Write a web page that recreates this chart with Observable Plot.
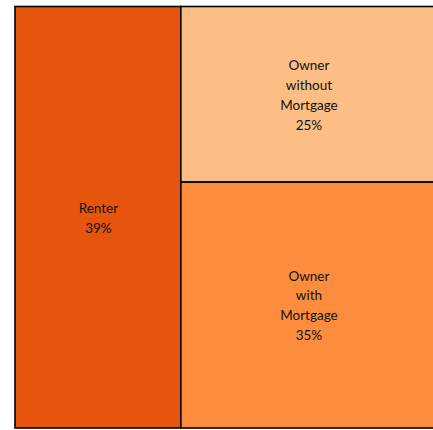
<!DOCTYPE html>
<html>
<head>
<meta charset="utf-8">
<script src="https://cdn.jsdelivr.net/npm/d3@7"></script>
<script src="https://cdn.jsdelivr.net/npm/@observablehq/plot@0.6"></script>
<style>
  html, body { margin: 0; padding: 0; background: #fff; overflow: hidden; }
  #chart svg { display: block; font-family: Lato, sans-serif; }
</style>
</head>
<body>
<div id="chart"></div>
<script>
const groups = ["Renter", "Owner", "Owner"];
const categories = ["Renter", "Owner without Mortgage", "Owner with Mortgage"];
const labels = ["Renter", "Owner\nwithout\nMortgage", "Owner\nwith\nMortgage"];
const values = [39, 25, 35];

// Build hierarchy: root -> group -> category
const rows = categories.map((c, i) => ({category: c, group: groups[i], label: labels[i], value: values[i]}));
const nested = {name: "root", children: Array.from(d3.group(rows, d => d.group), ([g, items]) =>
  g === items[0].category ? items[0] : {name: g, children: items})};
const root = d3.hierarchy(nested).sum(d => d.value || 0);
d3.treemap().tile(d3.treemapSliceDice).size([100, 100]).round(false)(root);
const cells = root.leaves().map(n => ({...n.data, x0: n.x0, x1: n.x1, y0: n.y0, y1: n.y1}));

const chart = Plot.plot({
  width: 433,
  height: 430,
  marginLeft: 15,
  marginRight: -3,
  marginTop: 6.5,
  marginBottom: 2,
  x: {domain: [0, 100], axis: null},
  y: {domain: [0, 100], axis: null, reverse: true},
  color: {domain: categories, range: ["#e6550d", "#fdbe85", "#fd8d3c"]},
  marks: [
    Plot.rect(cells, {x1: "x0", x2: "x1", y1: "y0", y2: "y1", fill: "category", stroke: "#000", strokeWidth: 1.6}),
    Plot.text(cells, {
      x: d => (d.x0 + d.x1) / 2,
      y: d => (d.y0 + d.y1) / 2,
      text: d => `${d.label}\n${d.value}%`,
      fontSize: 13.5,
      lineHeight: 1.48,
      dy: -1.5,
      fill: "#111",
      fontFamily: "Lato"
    })
  ]
});
document.getElementById("chart").append(chart);
</script>
</body>
</html>
